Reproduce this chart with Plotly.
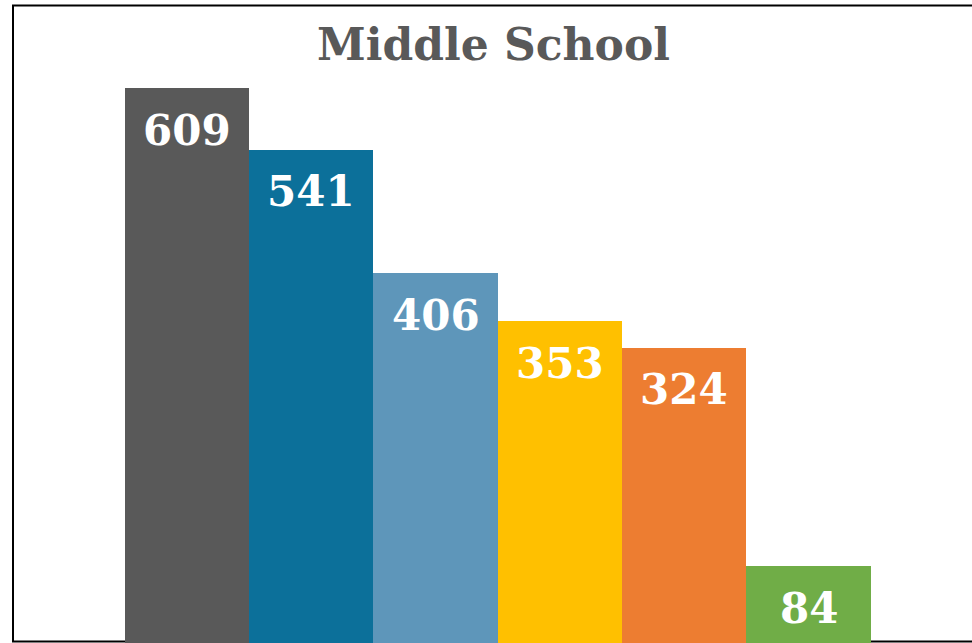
import plotly.graph_objects as go

# Enrollment counts for the middle school groups
categories = ["A", "B", "C", "D", "E", "F"]
counts = [609, 541, 406, 353, 324, 84]
bar_colors = ["#595959", "#0C709A", "#5E96BA", "#FFC000", "#ED7D31", "#70AD47"]
title_text = "Middle School"

W, H = 972, 643
x_px0, x_unit = 187.0, 124.3      # pixel centre of the first bar, pixels per category
y_unit = 0.9113                   # pixels per count

fig = go.Figure(
    go.Bar(
        x=list(range(len(categories))),
        y=counts,
        marker=dict(color=bar_colors, line=dict(width=0)),
        width=1.0,
        hoverinfo="skip",
    )
)

serif = "DejaVu Serif"

annotations = [
    dict(
        x=i, y=v, xref="x", yref="y",
        text=str(v), showarrow=False,
        yanchor="middle", yshift=-42,
        font=dict(family=serif, size=42, color="white", weight="bold"),
    )
    for i, v in enumerate(counts)
]
annotations.append(
    dict(
        x=493 / W, y=1 - 44 / H, xref="paper", yref="paper",
        text=title_text, showarrow=False,
        xanchor="center", yanchor="middle",
        font=dict(family=serif, size=44, color="#595959", weight="bold"),
    )
)

fig.update_layout(
    width=W, height=H,
    margin=dict(l=0, r=0, t=0, b=0),
    paper_bgcolor="white", plot_bgcolor="white",
    showlegend=False,
    bargap=0,
    xaxis=dict(
        range=[-x_px0 / x_unit, (W - x_px0) / x_unit],
        visible=False, fixedrange=True,
    ),
    yaxis=dict(
        range=[0, H / y_unit],
        visible=False, fixedrange=True,
    ),
    annotations=annotations,
    shapes=[
        dict(
            type="rect", xref="paper", yref="paper", layer="below",
            x0=13 / W, x1=1.05, y0=1 - 641.5 / H, y1=1 - 5.5 / H,
            line=dict(color="black", width=2), fillcolor="rgba(0,0,0,0)",
        )
    ],
)

fig.write_html("out.html")
